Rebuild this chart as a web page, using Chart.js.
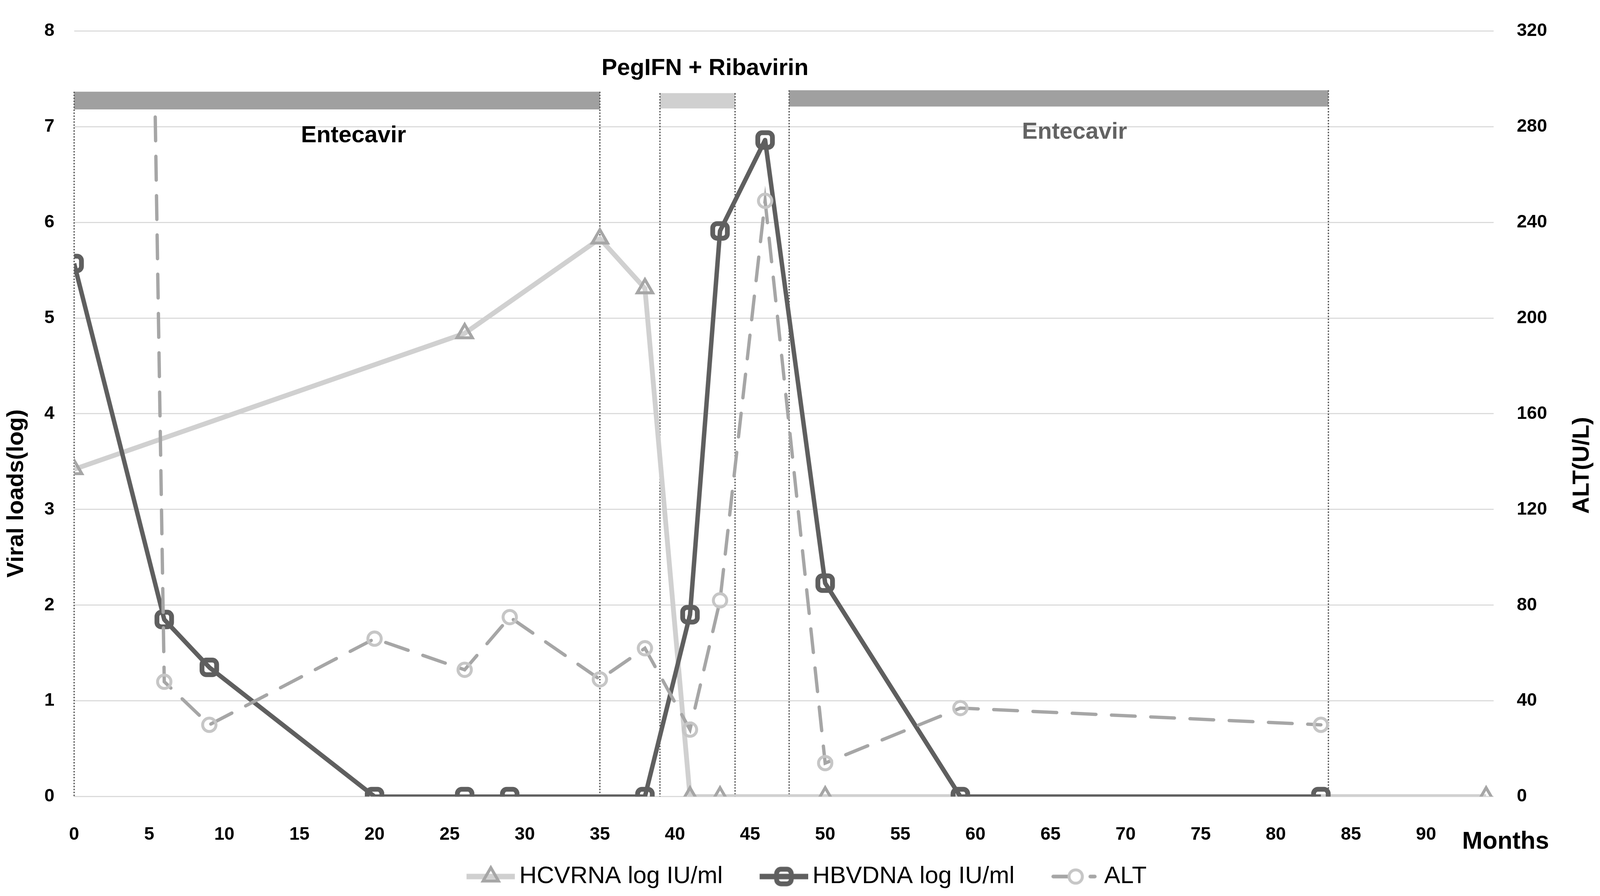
<!DOCTYPE html>
<html>
<head>
<meta charset="utf-8">
<script src="https://cdn.jsdelivr.net/npm/chart.js@4.4.1/dist/chart.umd.min.js"></script>
<style>
  html, body { margin: 0; padding: 0; background: #fff; overflow: hidden; }
  #wrap { position: fixed; left: 0; top: 0; width: 100vw; height: 100vh; }
</style>
</head>
<body>
<div id="wrap"><canvas id="chart"></canvas></div>
<script>
// data
const hcvMonths = [0, 26, 35, 38, 41, 43, 50, 94];
const hcvLoads = [3.42, 4.84, 5.83, 5.31, 0, 0, 0, 0];
const hbvMonths = [0, 6, 9, 20, 26, 29, 38, 41, 43, 46, 50, 59, 83];
const hbvLoads = [5.57, 1.85, 1.35, 0, 0, 0, 0, 1.9, 5.91, 6.86, 2.23, 0, 0];
const altMonths = [5.4, 6, 9, 20, 26, 29, 35, 38, 41, 43, 46, 50, 59, 83];
const altValues = [284, 48, 30, 66, 53, 75, 49, 62, 28, 82, 249, 14, 37, 30];
const seriesNames = ["HCVRNA log IU/ml", "HBVDNA log IU/ml", "ALT"];

const monthTicks = [0, 5, 10, 15, 20, 25, 30, 35, 40, 45, 50, 55, 60, 65, 70, 75, 80, 85, 90];
const loadTicks = [0, 1, 2, 3, 4, 5, 6, 7, 8];
const altTicks = [0, 40, 80, 120, 160, 200, 240, 280, 320];

// treatment periods (months)
const therapyNames = ["Entecavir", "PegIFN + Ribavirin", "Entecavir"];
const therapyStart = [0, 39, 47.6];
const therapyEnd = [35, 44, 83.5];

// sizes below are in pixels of a 4317x2293 figure, scaled to the window
const W = window.innerWidth || 4317;
const H = window.innerHeight || 2293;
const sx = W / 4317, sy = H / 2293, sf = Math.min(sx, sy);

const FONT = "'Liberation Sans', Arial, sans-serif";
const toPoints = (xs, ys) => xs.map((x, i) => ({ x: x, y: ys[i] }));

// legend icons: short line with the marker in the middle.
// the canvas is wider than the icon so the icon sits close to its text
function legendIcon(line, marker, dash) {
  const c = document.createElement("canvas");
  const iw = 131 * sf, off = 56 * sf;
  c.width = Math.round(off + iw);
  c.height = Math.round(64 * sf);
  const g = c.getContext("2d");
  const cy = c.height / 2;
  g.strokeStyle = line.color;
  g.lineWidth = line.width * sf;
  g.lineCap = dash ? "round" : "butt";
  if (dash) g.setLineDash(dash.map((d) => d * sf));
  g.beginPath();
  g.moveTo(off + (dash ? 5 * sf : 0), cy);
  g.lineTo(off + iw - (dash ? 5 * sf : 0), cy);
  g.stroke();
  g.setLineDash([]);
  g.strokeStyle = marker.color;
  g.fillStyle = "rgba(0,0,0,0)";
  g.lineWidth = marker.borderWidth * sf;
  Chart.helpers.drawPoint(g, {
    pointStyle: marker.style,
    radius: marker.radius * sf,
    rotation: 0,
    borderWidth: marker.borderWidth * sf
  }, off + iw / 2, cy);
  return c;
}

const icons = [
  legendIcon({ color: "#d0d0d0", width: 15 }, { color: "#a6a6a6", style: "triangle", radius: 24, borderWidth: 8 }),
  legendIcon({ color: "#5f5f5f", width: 15 }, { color: "#5f5f5f", style: "rectRounded", radius: 23, borderWidth: 13 }),
  legendIcon({ color: "#a6a6a6", width: 10 }, { color: "#c6c6c6", style: "circle", radius: 18, borderWidth: 8 }, [40, 60, 12, 100])
];

// bars, dotted lines and labels for the treatments, then axis titles
const overlay = {
  id: "overlay",
  beforeDatasetsDraw(chart) {
    const { ctx, scales } = chart;
    const x = scales.x, y = scales.y;
    const bars = [
      { top: 7.365, bottom: 7.18, color: "#a0a0a0" },
      { top: 7.35, bottom: 7.19, color: "#d0d0d0" },
      { top: 7.38, bottom: 7.21, color: "#a0a0a0" }
    ];
    const labels = [
      { x: 18.6, y: 6.836, color: "#000" },
      { x: 42.0, y: 7.54, color: "#000" },
      { x: 66.6, y: 6.872, color: "#636363" }
    ];
    ctx.save();
    therapyStart.forEach((s, i) => {
      const b = bars[i];
      const x0 = x.getPixelForValue(s), x1 = x.getPixelForValue(therapyEnd[i]);
      const y0 = y.getPixelForValue(b.top), y1 = y.getPixelForValue(b.bottom);
      ctx.fillStyle = b.color;
      ctx.fillRect(x0, y0, x1 - x0, y1 - y0);
    });
    ctx.strokeStyle = "#5a5a5a";
    ctx.lineWidth = 3.5 * sf;
    ctx.setLineDash([4 * sf, 4 * sf]);
    therapyStart.forEach((s, i) => {
      [s, therapyEnd[i]].forEach((m) => {
        const px = x.getPixelForValue(m);
        ctx.beginPath();
        ctx.moveTo(px, y.getPixelForValue(bars[i].top));
        ctx.lineTo(px, y.getPixelForValue(0));
        ctx.stroke();
      });
    });
    ctx.setLineDash([]);
    ctx.font = "bold " + 63 * sf + "px " + FONT;
    ctx.textAlign = "center";
    ctx.textBaseline = "alphabetic";
    therapyNames.forEach((name, i) => {
      ctx.fillStyle = labels[i].color;
      ctx.fillText(name, x.getPixelForValue(labels[i].x), y.getPixelForValue(labels[i].y));
    });
    ctx.restore();
  },
  afterDraw(chart) {
    const { ctx } = chart;
    ctx.save();
    ctx.fillStyle = "#000";
    ctx.font = "bold " + 63 * sf + "px " + FONT;
    ctx.textAlign = "center";
    ctx.textBaseline = "alphabetic";
    [["Viral loads(log)", 62, 1263], ["ALT(U/L)", 4286, 1191]].forEach(([t, px, py]) => {
      ctx.save();
      ctx.translate(px * sx, py * sy);
      ctx.rotate(-Math.PI / 2);
      ctx.fillText(t, 0, 0);
      ctx.restore();
    });
    ctx.font = "bold " + 66 * sf + "px " + FONT;
    ctx.textAlign = "left";
    ctx.fillText("Months", 3945 * sx, 2172 * sy);
    ctx.restore();
  }
};

const tickFont = { family: FONT, size: 49 * sf, weight: "bold" };

new Chart(document.getElementById("chart"), {
  type: "line",
  data: {
    datasets: [
      {
        label: seriesNames[0],
        data: toPoints(hcvMonths, hcvLoads),
        yAxisID: "y",
        borderColor: "#d0d0d0",
        borderWidth: 13 * sf,
        pointStyle: "triangle",
        pointRadius: 24 * sf,
        pointBorderWidth: 8 * sf,
        pointBorderColor: "#a6a6a6",
        pointBackgroundColor: "rgba(0,0,0,0)",
        order: 3
      },
      {
        label: seriesNames[1],
        data: toPoints(hbvMonths, hbvLoads),
        yAxisID: "y",
        borderColor: "#5f5f5f",
        borderWidth: 12 * sf,
        borderJoinStyle: "round",
        pointStyle: "rectRounded",
        pointRadius: 23 * sf,
        pointBorderWidth: 13 * sf,
        pointBorderColor: "#5f5f5f",
        pointBackgroundColor: "rgba(0,0,0,0)",
        order: 2
      },
      {
        label: seriesNames[2],
        data: toPoints(altMonths, altValues),
        yAxisID: "y1",
        borderColor: "#a6a6a6",
        borderWidth: 9 * sf,
        borderDash: [64 * sf, 42 * sf],
        borderCapStyle: "round",
        pointStyle: "circle",
        pointRadius: (c) => (c.dataIndex === 0 ? 0 : 18 * sf),
        pointBorderWidth: 8 * sf,
        pointBorderColor: "#c6c6c6",
        pointBackgroundColor: "rgba(0,0,0,0)",
        order: 1
      }
    ]
  },
  options: {
    responsive: true,
    maintainAspectRatio: false,
    animation: false,
    events: [],
    layout: { padding: { top: 32 * sy, bottom: 9 * sy, left: 0, right: 0 } },
    scales: {
      x: {
        type: "linear",
        min: 0,
        max: 94.5,
        grid: { display: false },
        border: { display: false },
        ticks: { font: tickFont, color: "#000", padding: 62 * sy, maxRotation: 0 },
        afterBuildTicks: (s) => { s.ticks = monthTicks.map((v) => ({ value: v })); },
        afterFit: (s) => { s.height = 113 * sy; }
      },
      y: {
        position: "left",
        min: 0,
        max: 8,
        grid: { color: "#d9d9d9", lineWidth: 3 * sf, drawTicks: false },
        border: { display: false },
        ticks: { font: tickFont, color: "#000", padding: 53 * sx },
        afterBuildTicks: (s) => { s.ticks = loadTicks.map((v) => ({ value: v })); },
        afterFit: (s) => { s.width = 200 * sx; }
      },
      y1: {
        position: "right",
        min: 0,
        max: 320,
        grid: { display: false },
        border: { display: false },
        ticks: { font: tickFont, color: "#000", padding: 54 * sx },
        afterBuildTicks: (s) => { s.ticks = altTicks.map((v) => ({ value: v })); },
        afterFit: (s) => { s.width = 287 * sx; }
      }
    },
    plugins: {
      tooltip: { enabled: false },
      legend: {
        position: "bottom",
        labels: {
          usePointStyle: true,
          pointStyleWidth: 145.5 * sf,
          padding: 64 * sf,
          color: "#000",
          font: { family: FONT, size: 65 * sf },
          generateLabels: (chart) => chart.data.datasets.map((ds, i) => ({
            text: ds.label,
            pointStyle: icons[i],
            datasetIndex: i,
            hidden: false,
            lineWidth: 0,
            fillStyle: "rgba(0,0,0,0)",
            strokeStyle: "rgba(0,0,0,0)"
          }))
        }
      }
    }
  },
  plugins: [overlay]
});
</script>
</body>
</html>
